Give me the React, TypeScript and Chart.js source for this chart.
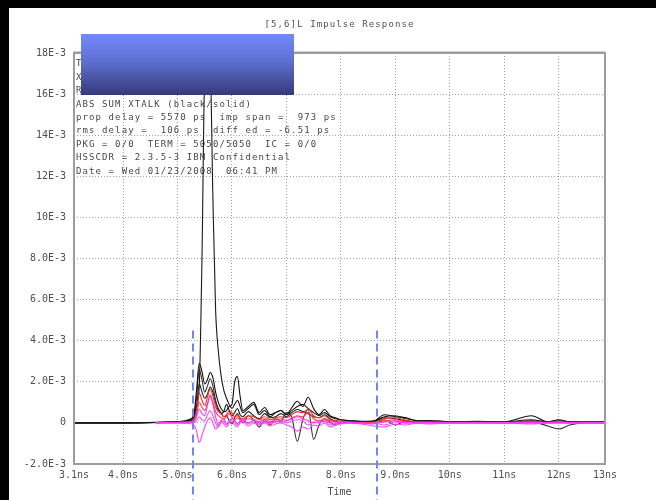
import React, { useEffect, useRef } from "react";
import { Chart, registerables } from "chart.js";

Chart.register(...registerables);

// ---------- data (values in units of 1E-3) ----------
const TIME_NS = [
  3.1, 4.0, 4.6, 5.0, 5.2, 5.3, 5.35, 5.4, 5.45, 5.5,
  5.55, 5.6, 5.65, 5.7, 5.75, 5.8, 5.85, 5.9, 5.95, 6.0,
  6.05, 6.1, 6.15, 6.2, 6.3, 6.4, 6.5, 6.6, 6.7, 6.8,
  6.9, 7.0, 7.1, 7.2, 7.3, 7.4, 7.5, 7.6, 7.7, 7.8,
  7.9, 8.0, 8.2, 8.4, 8.6, 8.8, 9.0, 9.2, 9.4, 9.6,
  10.0, 10.5, 11.0, 11.5, 11.8, 12.0, 12.2, 12.5, 12.85,
];

const BLACK_MAIN = [
  0, 0, 0.03, 0.06, 0.15, 0.35, 0.8, 1.8, 8, 17,
  17.8, 17.5, 11, 5.5, 3.5, 2.3, 1.6, 1.2, 0.9, 0.7,
  0.9, 1.1, 0.8, 0.5, 0.7, 0.9, 0.4, 0.6, 0.3, 0.5,
  0.6, 0.4, 0.6, 0.8, 0.9, 0.7, 0.5, 0.35, 0.5, 0.3,
  0.2, 0.15, 0.1, 0.08, 0.1, 0.3, 0.35, 0.2, 0.12, 0.1,
  0.06, 0.05, 0.05, 0.15, 0.05, 0.1, 0.05, 0.04, 0.05,
];

const BLACK_2 = [
  0, 0, 0.02, 0.05, 0.12, 0.4, 1.6, 2.9, 2.5, 1.9,
  2.1, 2.45, 2.2, 1.5, 1.0, 0.7, 0.55, 0.6, 0.8, 0.9,
  2.0, 2.25, 1.3, 0.6, 0.8, 1.0, 0.5, 0.75, 0.4, 0.5,
  0.6, 0.4, 0.75, 1.05, 0.8, 1.25, 0.7, 0.4, 0.65, 0.35,
  0.25, 0.15, 0.1, 0.06, 0.08, 0.4, 0.3, 0.25, 0.1, 0.12,
  0.05, 0.08, 0.05, 0.35, 0.05, 0.15, 0.05, 0.05, 0.05,
];

const BLACK_3 = [
  0, 0, 0.02, 0.04, 0.1, 0.3, 1.2, 2.6, 2.1, 1.5,
  1.8, 2.15, 1.8, 1.1, 0.7, 0.5, 0.3, 0.35, 0.1, -0.05,
  0.25, 0.45, 0.2, 0.0, 0.35, 0.15, -0.2, 0.15, -0.1, 0.2,
  0.1, 0.5, 0.25, -0.9, 0.15, 0.65, -0.8, -0.1, 0.2, 0.05,
  -0.1, 0.0, 0.02, 0.0, 0.0, 0.15, -0.1, 0.1, 0.0, 0.05,
  0.0, 0.02, 0.0, 0.05, -0.15, -0.3, -0.1, 0.0, 0.0,
];

const BLACK_4 = [
  0, 0, 0.02, 0.04, 0.08, 0.2, 0.8, 1.9, 1.5, 1.2,
  1.4, 1.75, 1.5, 1.0, 0.6, 0.45, 0.55, 0.9, 0.6, 0.35,
  0.5, 0.7, 0.4, 0.3, 0.55, 0.35, 0.2, 0.45, 0.25, 0.3,
  0.45, 0.3, 0.5, 0.65, 0.55, 0.45, 0.3, 0.25, 0.4, 0.2,
  0.1, 0.08, 0.05, 0.05, 0.05, 0.25, 0.2, 0.1, 0.05, 0.05,
  0.03, 0.03, 0.03, 0.1, 0.03, 0.05, 0.03, 0.03, 0.03,
];

const RED_1 = [
  0, 0, 0.01, 0.03, 0.05, 0.15, 0.6, 1.45, 1.1, 0.85,
  1.25, 1.65, 1.3, 0.8, 0.55, 0.45, 0.3, 0.4, 0.6, 0.5,
  0.3, 0.35, 0.25, 0.2, 0.35, 0.3, 0.15, 0.3, 0.15, 0.25,
  0.3, 0.25, 0.4, 0.55, 0.5, 0.68, 0.35, 0.25, 0.35, 0.15,
  0.1, 0.08, 0.05, 0.03, 0.03, 0.2, 0.25, 0.12, 0.05, 0.05,
  0.03, 0.03, 0.03, 0.08, 0.03, 0.05, 0.03, 0.03, 0.03,
];

const RED_2 = [
  0, 0, 0.01, 0.02, 0.04, 0.1, 0.4, 1.0, 0.75, 0.6,
  0.95, 1.35, 1.0, 0.55, 0.35, 0.25, 0.2, 0.3, 0.45, 0.3,
  0.15, 0.25, 0.15, 0.1, 0.2, 0.15, 0.05, 0.2, 0.05, 0.15,
  0.2, 0.1, 0.25, 0.35, 0.3, 0.5, 0.2, 0.1, 0.2, 0.1,
  0.05, 0.03, 0.02, 0.02, 0.02, 0.1, 0.15, 0.05, 0.02, 0.02,
  0.02, 0.02, 0.02, 0.05, 0.02, 0.03, 0.02, 0.02, 0.02,
];

const MAGENTA_1 = [
  0, 0, 0, 0.02, 0.03, 0.05, 0.3, 0.68, 0.45, 0.35,
  0.85, 1.3, 0.9, 0.3, -0.1, 0.1, 0.2, -0.05, 0.05, 0.2,
  0.1, -0.05, 0.1, 0.15, 0.0, 0.1, -0.05, 0.05, 0.0, 0.1,
  0.05, 0.1, 0.2, 0.3, 0.2, 0.1, 0.0, 0.05, 0.1, 0.0,
  -0.05, 0.0, 0.0, 0.0, -0.05, 0.05, 0.1, 0.0, 0.0, 0.0,
  0.0, 0.0, 0.0, 0.0, 0.0, 0.05, 0.0, 0.0, 0.0,
];

const MAGENTA_2 = [
  0, 0, 0, -0.02, -0.03, -0.1, -0.4, -0.96, -0.6, -0.2,
  0.1, 0.25, 0.0, -0.3, -0.15, 0.1, -0.05, -0.2, 0.0, 0.1,
  -0.1, -0.2, 0.0, 0.05, -0.15, 0.0, -0.1, 0.0, -0.15, -0.05,
  0.0, -0.1, -0.2, -0.4, -0.2, -0.3, -0.1, -0.15, 0.0, -0.2,
  -0.1, -0.05, 0.0, -0.05, -0.15, -0.2, -0.05, -0.1, 0.0, -0.05,
  0.0, -0.02, 0.0, -0.05, 0.0, -0.02, 0.0, 0.0, 0.0,
];

const MAGENTA_3 = [
  0, 0, 0, 0.01, 0.02, 0.02, 0.1, 0.3, 0.15, 0.1,
  0.4, 0.6, 0.35, 0.0, -0.2, 0.0, 0.1, -0.1, 0.1, 0.25,
  0.05, -0.1, 0.05, 0.2, -0.05, 0.15, 0.0, 0.1, -0.05, 0.05,
  0.1, 0.0, 0.1, 0.15, 0.1, -0.1, 0.05, 0.0, 0.1, -0.1,
  0.0, 0.05, 0.0, -0.05, 0.0, -0.1, 0.05, 0.0, 0.0, 0.0,
  0.0, 0.0, 0.0, 0.0, 0.0, 0.0, 0.0, 0.0, 0.0,
];

const Y_TICKS = [-2, 0, 2, 4, 6, 8, 10, 12, 14, 16, 18];
const Y_TICK_LABELS = ["-2.0E-3", "0", "2.0E-3", "4.0E-3", "6.0E-3", "8.0E-3", "10E-3", "12E-3", "14E-3", "16E-3", "18E-3"];
const X_MIN = 3.1;
const X_MAX = 12.85;
const X_TICKS = [3.1, 4, 5, 6, 7, 8, 9, 10, 11, 12, 12.85];
const X_TICK_LABELS = ["3.1ns", "4.0ns", "5.0ns", "6.0ns", "7.0ns", "8.0ns", "9.0ns", "10ns", "11ns", "12ns", "13ns"];
const MARKERS_NS = [5.29, 8.67];
const MARKER_TOP = 4.5;

const TITLE = "[5,6]L Impulse Response";
const X_TITLE = "Time";
const INFO_LINES = [
  "T",
  "X",
  "R",
  "ABS SUM XTALK (black/solid)",
  "prop delay = 5570 ps  imp span =  973 ps",
  "rms delay =  106 ps  diff ed = -6.51 ps",
  "PKG = 0/0  TERM = 5050/5050  IC = 0/0",
  "HSSCDR = 2.3.5-3 IBM Confidential",
  "Date = Wed 01/23/2008  06:41 PM",
];

// start: first time (ns) at which a trace is drawn
const SERIES = [
  { name: "m1", values: MAGENTA_1, color: "#ff33ff", order: 1, start: 4.6 },
  { name: "m2", values: MAGENTA_2, color: "#ff44ff", order: 1, start: 4.6 },
  { name: "m3", values: MAGENTA_3, color: "#f050f0", order: 1, start: 4.6 },
  { name: "r1", values: RED_1, color: "#ff2a2a", order: 2, start: 4.6 },
  { name: "r2", values: RED_2, color: "#ff3b3b", order: 2, start: 4.6 },
  { name: "b1", values: BLACK_MAIN, color: "#1a1a1a", order: 3, start: 3.1 },
  { name: "b2", values: BLACK_2, color: "#111111", order: 3, start: 3.1 },
  { name: "b3", values: BLACK_3, color: "#333333", order: 3, start: 3.1 },
  { name: "b4", values: BLACK_4, color: "#222222", order: 3, start: 3.1 },
];

const MONO = "'DejaVu Sans Mono', 'Liberation Mono', monospace";

const decorPlugin = {
  id: "decor",
  beforeDraw(chart: any) {
    const { ctx, width, height } = chart;
    ctx.save();
    ctx.fillStyle = "#000000";
    ctx.fillRect(0, 0, width, height);
    ctx.fillStyle = "#ffffff";
    ctx.fillRect(9, 8, width - 9, height - 8);
    ctx.restore();
  },
  beforeDatasetsDraw(chart: any) {
    const { ctx, chartArea } = chart;
    ctx.save();
    ctx.font = `9px ${MONO}`;
    (ctx as any).letterSpacing = "1.1px";
    ctx.fillStyle = "#484848";
    ctx.textBaseline = "middle";
    ctx.textAlign = "left";
    INFO_LINES.forEach((line, i) => {
      ctx.fillText(line, chartArea.left + 2, chartArea.top + 11 + i * 13.4);
    });
    ctx.restore();
  },
  afterDraw(chart: any) {
    const { ctx, chartArea, scales, height } = chart;
    const { left, right, top, bottom } = chartArea;
    ctx.save();
    // frame
    ctx.strokeStyle = "#9c9c9c";
    ctx.lineWidth = 2;
    ctx.strokeRect(left, top, right - left, bottom - top);
    ctx.strokeStyle = "#d0d0d0";
    ctx.lineWidth = 1;
    ctx.beginPath();
    ctx.moveTo(left, top - 1.5);
    ctx.lineTo(right, top - 1.5);
    ctx.stroke();

    // title
    ctx.font = `9px ${MONO}`;
    (ctx as any).letterSpacing = "1.1px";
    ctx.fillStyle = "#505050";
    ctx.textAlign = "center";
    ctx.textBaseline = "middle";
    ctx.fillText(TITLE, (left + right) / 2, 25);

    // blue header box
    const bx = 81, by = 34, bw = 213, bh = 61;
    const g = ctx.createLinearGradient(0, by, 0, by + bh);
    g.addColorStop(0, "#7189fb");
    g.addColorStop(0.45, "#5d6fd0");
    g.addColorStop(1, "#353a78");
    ctx.fillStyle = g;
    ctx.fillRect(bx, by, bw, bh);

    // dashed markers
    ctx.strokeStyle = "#7186f2";
    ctx.lineWidth = 2;
    ctx.setLineDash([8, 5]);
    const yTop = scales.y.getPixelForValue(MARKER_TOP);
    MARKERS_NS.forEach((t) => {
      const x = Math.round(scales.x.getPixelForValue(t));
      ctx.beginPath();
      ctx.moveTo(x, yTop);
      ctx.lineTo(x, height);
      ctx.stroke();
    });
    ctx.restore();
  },
};

export default function App() {
  const canvasRef = useRef<HTMLCanvasElement | null>(null);

  useEffect(() => {
    const canvas = canvasRef.current;
    if (!canvas) return;
    const tickFont = { family: MONO, size: 10 };
    const chart = new Chart(canvas, {
      type: "line",
      data: {
        datasets: SERIES.map((s) => ({
          label: s.name,
          data: TIME_NS.map((t, i) => ({ x: t, y: s.values[i] })).filter((p) => p.x >= s.start),
          borderColor: s.color,
          borderWidth: 1.1,
          pointRadius: 0,
          fill: false,
          cubicInterpolationMode: "monotone" as const,
          order: s.order,
        })),
      },
      options: {
        responsive: false,
        maintainAspectRatio: false,
        devicePixelRatio: 1,
        animation: false,
        layout: { padding: { left: 0, top: 53, right: 51, bottom: 0 } },
        plugins: {
          legend: { display: false },
          tooltip: { enabled: false },
          title: { display: false },
        },
        scales: {
          x: {
            type: "linear",
            min: X_MIN,
            max: X_MAX,
            afterBuildTicks: (s: any) => {
              s.ticks = X_TICKS.map((v) => ({ value: v }));
            },
            afterFit: (s: any) => {
              s.height = 36;
            },
            ticks: {
              autoSkip: false,
              maxRotation: 0,
              padding: 5,
              color: "#505050",
              font: tickFont,
              callback: (_v: any, i: number) => X_TICK_LABELS[i],
            },
            grid: { color: "#a0a0a0", lineWidth: 1, drawTicks: false },
            border: { display: false, dash: [1, 2] },
            title: {
              display: true,
              text: X_TITLE,
              color: "#505050",
              font: tickFont,
              padding: { top: 0, bottom: 2 },
            },
          },
          y: {
            type: "linear",
            min: -2,
            max: 18,
            afterBuildTicks: (s: any) => {
              s.ticks = Y_TICKS.map((v) => ({ value: v }));
            },
            afterFit: (s: any) => {
              s.width = 74;
            },
            ticks: {
              autoSkip: false,
              padding: 8,
              color: "#505050",
              font: tickFont,
              callback: (_v: any, i: number) => Y_TICK_LABELS[i],
            },
            grid: { color: "#a0a0a0", lineWidth: 1, drawTicks: false },
            border: { display: false, dash: [1, 2] },
          },
        },
      },
      plugins: [decorPlugin],
    } as any);
    return () => chart.destroy();
  }, []);

  return (
    <canvas
      ref={canvasRef}
      width={656}
      height={500}
      style={{ position: "fixed", left: 0, top: 0, width: 656, height: 500, display: "block" }}
    />
  );
}
